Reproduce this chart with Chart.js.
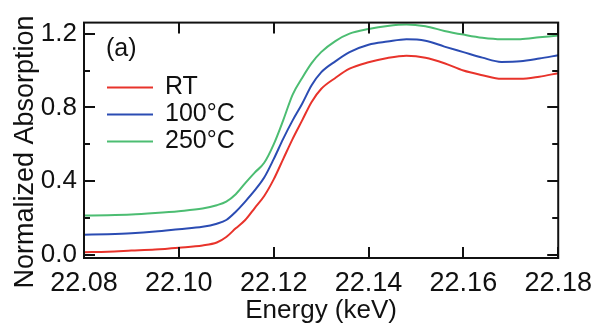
<!DOCTYPE html>
<html>
<head>
<meta charset="utf-8">
<script src="https://cdn.jsdelivr.net/npm/chart.js@4/dist/chart.umd.min.js"></script>
<style>
	html, body { margin: 0; padding: 0; background: #fff; }
	canvas { display: block; }
</style>
</head>
<body>
<canvas id="xas-chart" width="601" height="326"></canvas>
<script>
// energy grid (keV) and normalized absorption
const energy = [22.080, 22.085, 22.090, 22.095, 22.100, 22.105, 22.108, 22.110, 22.112, 22.114,
	22.116, 22.118, 22.120, 22.122, 22.124, 22.126, 22.128, 22.130, 22.133, 22.136,
	22.140, 22.144, 22.148, 22.152, 22.156, 22.160, 22.164, 22.168, 22.172, 22.176, 22.180];
const absRT = [0.015, 0.018, 0.024, 0.030, 0.040, 0.052, 0.068, 0.098, 0.145, 0.190,
	0.255, 0.320, 0.410, 0.520, 0.630, 0.730, 0.830, 0.900, 0.960, 1.010,
	1.045, 1.068, 1.080, 1.070, 1.040, 1.000, 0.975, 0.955, 0.955, 0.967, 0.986];
const abs100 = [0.110, 0.113, 0.118, 0.127, 0.140, 0.153, 0.170, 0.190, 0.235, 0.290,
	0.350, 0.420, 0.520, 0.630, 0.730, 0.820, 0.920, 0.990, 1.050, 1.100,
	1.140, 1.157, 1.170, 1.162, 1.130, 1.100, 1.070, 1.047, 1.050, 1.065, 1.083];
const abs250 = [0.214, 0.216, 0.220, 0.228, 0.238, 0.252, 0.270, 0.290, 0.330, 0.390,
	0.447, 0.500, 0.600, 0.730, 0.870, 0.960, 1.040, 1.100, 1.160, 1.200,
	1.225, 1.242, 1.250, 1.240, 1.215, 1.195, 1.178, 1.170, 1.170, 1.180, 1.190];

const seriesLabels = ['RT', '100°C', '250°C'];
const xTicks = [22.08, 22.10, 22.12, 22.14, 22.16, 22.18];
const yMajorTicks = [0.0, 0.4, 0.8, 1.2];
const yMinorTicks = [0.2, 0.6, 1.0];
const panelLabel = '(a)';
const yTitle = 'Normalized Absorption';

const FONT = '"Liberation Sans", Arial, sans-serif';
const colors = ['#e8332b', '#2b4cb3', '#4cbd72'];

const toPoints = (ys) => energy.map((e, i) => ({x: e, y: ys[i]}));

// frame, inward ticks, legend, panel label and y title
const framePlugin = {
	id: 'frame',
	afterDatasetsDraw(chart) {
		const ctx = chart.ctx;
		const a = chart.chartArea;
		const xs = chart.scales.x;
		const ys = chart.scales.y;
		ctx.save();
		ctx.strokeStyle = '#111';
		ctx.lineWidth = 2;
		ctx.beginPath();
		xTicks.forEach((v) => {
			const px = Math.round(xs.getPixelForValue(v));
			ctx.moveTo(px, a.bottom); ctx.lineTo(px, a.bottom - 11);
			ctx.moveTo(px, a.top); ctx.lineTo(px, a.top + 11);
		});
		yMajorTicks.forEach((v) => {
			const py = Math.round(ys.getPixelForValue(v));
			ctx.moveTo(a.left, py); ctx.lineTo(a.left + 11, py);
			ctx.moveTo(a.right, py); ctx.lineTo(a.right - 11, py);
		});
		yMinorTicks.forEach((v) => {
			const py = Math.round(ys.getPixelForValue(v));
			ctx.moveTo(a.left, py); ctx.lineTo(a.left + 6, py);
			ctx.moveTo(a.right, py); ctx.lineTo(a.right - 6, py);
		});
		ctx.stroke();
		ctx.strokeRect(a.left, a.top, a.right - a.left, a.bottom - a.top);

		ctx.fillStyle = '#111';
		ctx.font = '25px ' + FONT;
		ctx.textBaseline = 'middle';
		ctx.textAlign = 'left';
		ctx.fillText(panelLabel, a.left + 22, a.top + 27);

		chart.data.datasets.forEach((ds, i) => {
			const y = a.top + 65 + i * 27;
			ctx.strokeStyle = ds.borderColor;
			ctx.lineWidth = 2;
			ctx.beginPath();
			ctx.moveTo(a.left + 23, y);
			ctx.lineTo(a.left + 69, y);
			ctx.stroke();
			ctx.fillText(ds.label, a.left + 81, y);
		});

		// y title sits a bit below the axis centre in the original
		ctx.translate(26, 152);
		ctx.rotate(-Math.PI / 2);
		ctx.textAlign = 'center';
		ctx.font = '27px ' + FONT;
		ctx.fillText(yTitle, 0, 0);
		ctx.restore();
	},
};

new Chart(document.getElementById('xas-chart'), {
	type: 'line',
	data: {
		datasets: [
			{label: seriesLabels[0], data: toPoints(absRT), borderColor: colors[0]},
			{label: seriesLabels[1], data: toPoints(abs100), borderColor: colors[1]},
			{label: seriesLabels[2], data: toPoints(abs250), borderColor: colors[2]},
		].map((d) => Object.assign(d, {
			borderWidth: 2,
			pointRadius: 0,
			fill: false,
			cubicInterpolationMode: 'monotone',
		})),
	},
	options: {
		responsive: false,
		animation: false,
		layout: {padding: {top: 16, right: 35, left: 0, bottom: 0}},
		plugins: {legend: {display: false}, tooltip: {enabled: false}},
		scales: {
			x: {
				type: 'linear',
				min: 22.08,
				max: 22.18,
				afterBuildTicks: (s) => { s.ticks = xTicks.map((v) => ({value: v})); },
				afterFit: (s) => { s.height = 68; },
				grid: {display: false, drawTicks: false},
				border: {display: false},
				ticks: {
					color: '#111',
					padding: 9,
					maxRotation: 0,
					font: {family: FONT, size: 27},
					callback: (v) => v.toFixed(2),
				},
				title: {
					display: true,
					text: 'Energy (keV)',
					color: '#111',
					padding: {top: 0, bottom: 0},
					font: {family: FONT, size: 26},
				},
			},
			y: {
				type: 'linear',
				min: -0.016,
				max: 1.26,
				afterBuildTicks: (s) => { s.ticks = yMajorTicks.map((v) => ({value: v})); },
				afterFit: (s) => { s.width = 84; },
				grid: {display: false, drawTicks: false},
				border: {display: false},
				ticks: {
					color: '#111',
					padding: 7,
					font: {family: FONT, size: 26},
					callback: (v) => v.toFixed(1),
				},
			},
		},
	},
	plugins: [framePlugin],
});
</script>
</body>
</html>
